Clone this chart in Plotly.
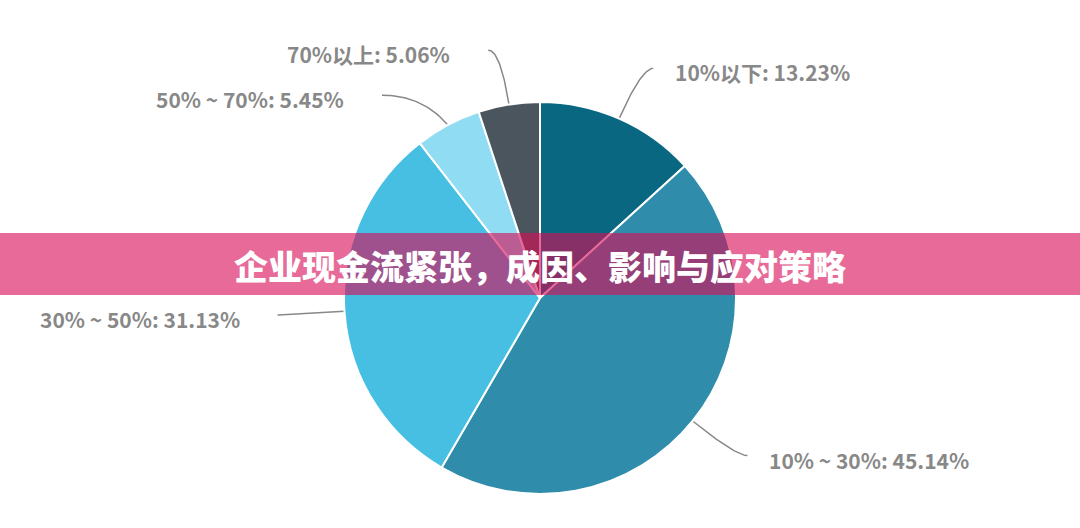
"""
plot.py

Pie of cash-flow gap shares with a title banner across the middle
"""
import numpy as np
import plotly.graph_objects as go

labels = ["10%以下", "10% ~ 30%", "30% ~ 50%", "50% ~ 70%", "70%以上"]
values = [13.23, 45.14, 31.13, 5.45, 5.06]
colors = ["#0a6782", "#2f8dab", "#47bfe3", "#8fdcf3", "#4b555e"]
title = "企业现金流紧张，成因、影响与应对策略"

W, H = 1080, 528
CX, CY, R = 540, 298, 196   # pie centre / radius in pixels
L1, L2 = 55, 12             # leader line: radial part, horizontal part
MIN_GAP = 45                # min vertical distance between labels on one side
FONT = "Noto Sans CJK SC"
GREY = "#888888"

fig = go.Figure()
fig.add_trace(go.Pie(
    labels=labels,
    values=values,
    sort=False,
    direction="clockwise",
    rotation=0,
    marker=dict(colors=colors, line=dict(color="white", width=2)),
    textinfo="none",
    hoverinfo="label+percent",
    domain=dict(x=[(CX - R) / W, (CX + R) / W],
                y=[(H - CY - R) / H, (H - CY + R) / H]),
    showlegend=False,
))

# leader lines and labels, placed from each slice's mid angle
total = sum(values)
start = 0.0
placed = []
for lab, v in zip(labels, values):
    mid = np.radians((start + v / 2) / total * 360)
    start += v
    s, c = np.sin(mid), np.cos(mid)
    y0 = CY - (R + L1) * c
    placed.append([lab, v, s, c, y0, y0])

# push labels apart on each side (top to bottom)
for side in (1, -1):
    rows = sorted([p for p in placed if (1 if p[2] >= 0 else -1) == side],
                  key=lambda p: p[4])
    for a, b in zip(rows, rows[1:]):
        if b[4] - a[4] < MIN_GAP:
            b[4] = a[4] + MIN_GAP

for lab, v, s, c, ly, y0 in placed:
    side = 1 if s >= 0 else -1
    p0 = np.array([CX + R * s, CY - R * c])
    p1 = np.array([CX + (R + L1) * s, ly])
    # pushed labels get a longer horizontal tail
    p2 = p1 + np.array([side * (L2 + 1.5 * abs(ly - y0)), 0])
    t = np.linspace(0, 1, 30)[:, None]
    pts = (1 - t) ** 2 * p0 + 2 * (1 - t) * t * p1 + t ** 2 * p2
    fig.add_trace(go.Scatter(
        x=pts[:, 0], y=pts[:, 1], mode="lines",
        line=dict(color=GREY, width=1.5),
        hoverinfo="skip", showlegend=False,
    ))
    fig.add_annotation(
        x=p2[0], y=p2[1], xref="x", yref="y",
        text=f"<b>{lab}: {v:.2f}%</b>", showarrow=False,
        xanchor="left" if side > 0 else "right",
        xshift=20 if side > 0 else -36, yshift=-4,
        font=dict(family=FONT, size=21, color=GREY),
    )

# banner
fig.add_shape(type="rect", xref="paper", yref="paper",
              x0=0, x1=1, y0=(H - 295) / H, y1=(H - 233) / H,
              fillcolor="rgba(216,11,86,0.61)", line=dict(width=0),
              layer="above")
fig.add_annotation(
    x=0.5, y=(H - 265) / H, xref="paper", yref="paper",
    text=title, showarrow=False,
    font=dict(family=FONT, size=34, color="white", weight=900),
)

fig.update_layout(
    width=W, height=H,
    margin=dict(l=0, r=0, t=0, b=0),
    paper_bgcolor="white", plot_bgcolor="white",
    xaxis=dict(range=[0, W], visible=False, fixedrange=True),
    yaxis=dict(range=[H, 0], visible=False, fixedrange=True),
)

fig.write_html("out.html", config={"displayModeBar": False},
               post_script="document.body.style.margin='0';")
